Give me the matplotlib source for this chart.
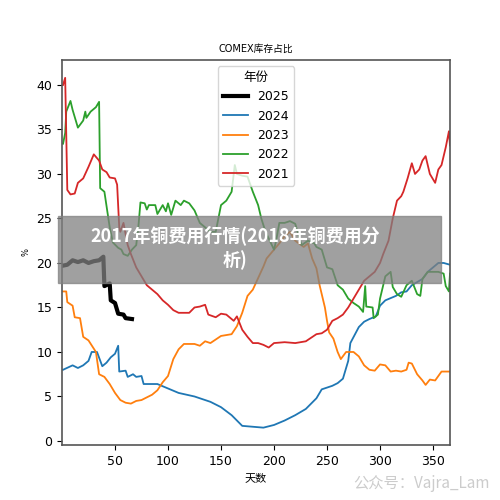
import matplotlib
matplotlib.use("Agg")
import matplotlib.pyplot as plt

plt.rcParams['font.family'] = ['DejaVu Sans', 'Noto Sans CJK SC']

# (day, percent) key points
d2025 = [1, 5, 10, 15, 20, 25, 30, 35, 39, 40, 45, 46, 50, 53, 58, 60, 66]
v2025 = [19.7, 19.8, 20.3, 20.1, 20.3, 20.0, 20.2, 20.3, 20.7, 17.4, 17.7, 15.8, 15.5, 14.3, 14.2, 13.8, 13.7]

d2024 = [1, 10, 15, 20, 25, 28, 33, 38, 42, 46, 50, 53, 54, 60, 62, 67, 70, 75, 77, 90, 100, 110, 125,
         140, 150, 160, 170, 180, 190, 200, 210, 220, 230, 240, 245, 255, 260, 265, 270, 272, 280, 285,
         290, 296, 300, 305, 315, 320, 325, 330, 340, 345, 350, 355, 360, 366]
v2024 = [8.0, 8.5, 8.2, 8.5, 9.0, 10.0, 10.0, 8.4, 8.8, 9.4, 9.8, 10.7, 7.8, 7.9, 7.2, 7.5, 7.2, 7.3, 6.4,
         6.4, 5.9, 5.4, 5.0, 4.4, 3.8, 2.9, 1.7, 1.6, 1.5, 1.8, 2.3, 2.9, 3.6, 4.8, 5.8, 6.2, 6.5, 7.0,
         9.0, 11.0, 12.8, 13.4, 13.7, 14.0, 15.2, 15.8, 16.3, 16.7, 16.8, 17.5, 18.2, 19.0, 19.5, 20.0,
         20.0, 19.8]

d2023 = [1, 4, 5, 10, 12, 17, 20, 25, 32, 35, 40, 45, 50, 55, 60, 65, 70, 75, 80, 85, 90, 95, 100, 105,
         110, 115, 125, 130, 135, 140, 145, 150, 160, 165, 170, 175, 180, 185, 190, 193, 200, 205, 210,
         215, 220, 228, 232, 236, 240, 243, 248, 250, 252, 256, 260, 263, 268, 275, 280, 285, 290, 295,
         300, 305, 310, 315, 320, 325, 327, 330, 335, 340, 343, 347, 352, 358, 366]
v2023 = [16.8, 16.8, 15.6, 15.2, 13.9, 13.8, 11.7, 11.3, 10.0, 7.5, 7.2, 6.4, 5.4, 4.6, 4.3, 4.2, 4.5,
         4.6, 4.9, 5.2, 5.7, 6.6, 7.3, 9.2, 10.3, 10.9, 10.9, 10.7, 11.2, 11.0, 11.4, 11.8, 12.0, 12.9,
         14.4, 16.3, 17.0, 18.3, 19.6, 20.5, 21.5, 22.2, 23.0, 23.5, 22.5, 21.8, 22.2, 20.5, 19.4, 17.5,
         15.0, 13.5, 12.2, 11.5, 10.0, 9.2, 10.0, 10.0, 9.5, 8.5, 8.0, 7.9, 8.6, 8.5, 7.8, 7.9, 7.8, 8.0,
         8.8, 8.7, 7.5, 6.8, 6.3, 6.9, 6.8, 7.8, 7.8]

d2022 = [1, 3, 4, 8, 10, 13, 15, 20, 22, 23, 27, 32, 35, 36, 40, 45, 48, 53, 56, 58, 62, 66, 70, 72, 74,
         78, 80, 82, 88, 90, 95, 98, 100, 103, 107, 112, 115, 120, 125, 130, 135, 140, 145, 150, 155,
         160, 163, 165, 170, 175, 180, 185, 188, 192, 196, 200, 202, 205, 210, 215, 220, 226, 232, 238,
         240, 245, 250, 255, 260, 265, 270, 275, 280, 284, 286, 287, 293, 294, 298, 300, 305, 310, 312,
         316, 320, 325, 330, 335, 338, 340, 345, 350, 355, 360, 362, 365, 366]
v2022 = [33.4, 34.6, 37.0, 38.2, 37.2, 36.0, 35.2, 36.0, 37.0, 36.3, 37.0, 37.5, 38.1, 28.4, 28.0, 24.0,
         22.3, 21.7, 21.5, 21.0, 20.8, 21.5, 22.0, 24.0, 26.8, 26.7, 26.0, 26.5, 26.5, 25.5, 26.5, 25.8,
         26.7, 25.4, 27.0, 26.5, 27.0, 26.7, 25.9, 24.5, 24.0, 23.5, 23.5, 26.5, 27.0, 28.0, 31.0, 30.0,
         29.8, 29.7, 28.0, 26.5, 25.0, 23.5, 22.5, 21.5, 22.5, 24.5, 24.5, 24.7, 24.4, 22.0, 22.5, 22.2,
         21.8, 21.5, 19.5, 19.3, 17.5, 17.0, 16.0, 15.5, 15.1, 14.5, 17.4, 15.1, 15.0, 13.8, 14.2, 16.0,
         18.5, 19.0, 17.3, 16.5, 16.2, 17.5, 18.0, 16.5, 16.3, 18.2, 19.0, 19.0, 19.0, 18.8, 17.4, 16.8,
         18.8]

d2021 = [1, 3, 5, 8, 12, 15, 20, 25, 30, 35, 38, 42, 45, 50, 52, 54, 55, 58, 62, 65, 70, 75, 80, 85, 90,
         95, 100, 105, 110, 120, 125, 130, 135, 138, 145, 150, 155, 160, 162, 165, 170, 175, 180, 185,
         190, 195, 200, 210, 220, 230, 240, 245, 250, 255, 260, 265, 270, 275, 280, 285, 290, 295, 300,
         303, 308, 312, 316, 320, 322, 326, 330, 333, 337, 340, 343, 345, 347, 352, 355, 358, 362, 365, 366]
v2021 = [40.0, 40.8, 28.2, 27.7, 27.8, 29.0, 29.5, 30.8, 32.2, 31.5, 30.5, 30.2, 29.6, 29.5, 28.8, 24.0,
         23.5, 24.5, 22.0, 21.0, 19.5, 18.5, 17.5, 17.0, 16.5, 15.8, 15.3, 14.7, 14.4, 14.4, 15.0, 15.1,
         15.3, 14.2, 13.9, 14.3, 14.2, 13.7, 13.5, 14.0, 12.5, 11.7, 11.0, 11.0, 10.8, 10.5, 11.0, 11.1,
         11.0, 11.2, 12.0, 12.1, 12.5, 13.5, 13.8, 14.2, 15.0, 16.0, 17.0, 18.0, 18.5, 19.0, 20.0, 21.0,
         22.5, 25.0, 27.0, 27.5, 28.0, 29.5, 31.2, 30.0, 30.5, 31.5, 32.0, 31.0, 30.0, 29.0, 30.5, 31.0,
         33.0, 34.8, 33.2]

fig = plt.figure(figsize=(5, 5), dpi=100)
ax = fig.add_axes([0.124, 0.11, 0.776, 0.77])

ax.plot(d2025, v2025, color='black', lw=3, label='2025')
ax.plot(d2024, v2024, color='tab:blue', lw=1.3, label='2024')
ax.plot(d2023, v2023, color='tab:orange', lw=1.3, label='2023')
ax.plot(d2022, v2022, color='tab:green', lw=1.3, label='2022')
ax.plot(d2021, v2021, color='tab:red', lw=1.3, label='2021')

ax.set_xlim(0, 366)
ax.set_ylim(-0.45, 42.8)
ax.set_xticks([50, 100, 150, 200, 250, 300, 350])
ax.set_yticks([0, 5, 10, 15, 20, 25, 30, 35, 40])
ax.tick_params(labelsize=9)
ax.set_title('COMEX库存占比', fontsize=7)
ax.set_xlabel('天数', fontsize=8)
ax.set_ylabel('%', fontsize=6)
for s in ax.spines.values():
    s.set_color('#555555')
    s.set_linewidth(1.2)
leg = ax.legend(title='年份', loc='upper center', fontsize=9, title_fontsize=9)

# overlay banner
fig.patches.append(plt.Rectangle((0.116, 0.434), 0.766, 0.134, transform=fig.transFigure,
                                 color='#808080', alpha=0.75, zorder=5))
fig.text(0.47, 0.505, '2017年铜费用行情(2018年铜费用分\n析)', ha='center', va='center',
         color='white', fontsize=13, fontweight='bold', zorder=6, linespacing=1.3,
         family=['Noto Sans CJK SC'])
fig.text(0.98, 0.015, '公众号：Vajra_Lam', ha='right', va='bottom', color='#cccccc',
         fontsize=11, family=['Noto Sans CJK SC'], zorder=6)

fig.savefig('out.png', dpi=100)
